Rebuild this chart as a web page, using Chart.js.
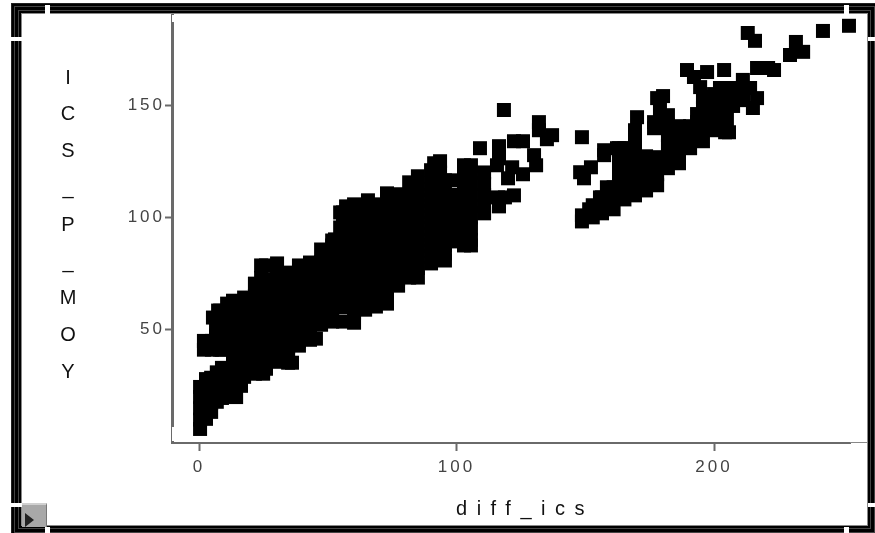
<!DOCTYPE html>
<html>
<head>
<meta charset="utf-8">
<title>diff_ics</title>
<script src="https://cdn.jsdelivr.net/npm/chart.js@4"></script>
<style>
  html, body { margin: 0; padding: 0; background: #fff; overflow: hidden; }
  #wrap { position: relative; width: 875px; height: 533px; overflow: hidden; }
  #frame {
    position: absolute; left: 11px; top: 3px; width: 867px; height: 533px; pointer-events: none;
    box-shadow: inset 0 0 0 1px #222, inset 0 0 0 3px #000, inset 0 0 0 4px #444, inset 0 0 0 7px #000,
                inset 0 0 0 8px #444, inset 0 0 0 10px #000, inset 0 0 0 11px #888;
  }
  .notch { position: absolute; background: #fff; }
  #btn {
    position: absolute; left: 22px; top: 503px; width: 25px; height: 24px; background: #a8a8a8;
    border-top: 2px solid #d0d0d0; border-right: 1px solid #777; box-sizing: border-box;
  }
  #btn i { position: absolute; left: 3px; top: 8px; width: 0; height: 0;
    border-left: 9px solid #222; border-top: 7px solid transparent; border-bottom: 7px solid transparent; }
</style>
</head>
<body>
<div id="wrap">
  <canvas id="scatterChart" width="875" height="533"></canvas>
  <div id="frame"></div>
  <div class="notch" style="left:45px;top:5px;width:5px;height:9px"></div>
  <div class="notch" style="left:844px;top:5px;width:5px;height:9px"></div>
  <div class="notch" style="left:11px;top:37px;width:11px;height:4px"></div>
  <div class="notch" style="left:868px;top:37px;width:7px;height:4px"></div>
  <div class="notch" style="left:11px;top:503px;width:11px;height:4px"></div>
  <div class="notch" style="left:868px;top:503px;width:7px;height:4px"></div>
  <div id="btn"><i></i></div>
  <div class="notch" style="left:45px;top:527px;width:5px;height:6px"></div>
  <div class="notch" style="left:844px;top:527px;width:5px;height:6px"></div>
  <div class="notch" style="left:172px;top:15px;width:2px;height:7px"></div>
  <div class="notch" style="left:172px;top:427px;width:2px;height:14px"></div>
  <div style="position:absolute;left:850px;top:442px;width:18px;height:1px;background:#888"></div>
</div>
<script>
const xTicks = [0, 100, 200];
const yTicks = [50, 100, 150];
const xTitle = 'diff_ics';
const yTitleLetters = ['I', 'C', 'S', '_', 'P', '_', 'M', 'O', 'Y'];

// lower band, x < 140: diff_ics values, one per group in lowerY
const lowerX = [
  0.4, 1.9, 2.7, 4.7, 5, 5.4, 6.6, 6.9, 7.4, 8.2, 8.9, 10.9, 13.2, 14.4, 16.3, 17.5, 21.7, 24.1, 24.9, 26, 30.3,
  34.6, 36.1, 38.8, 43.1, 45.4, 47.4, 51.7, 52.8, 54.8, 55.9, 57.1, 60.2, 64.5, 65.6, 68.7, 73, 77.3,
  81.6, 85, 90.1, 91.3, 93.6, 95.5, 98.6, 102.9, 105.6, 109.1, 110.7, 115.7, 116.1, 116.5, 118.4, 118.8,
  120, 121.6, 122.3, 125.8, 130.1, 130.9, 132, 135.1, 137.1
];

const lowerY = [
  [5.8, 10, 15, 20, 24.5],
  [41.1, 45],
  [10.3, 15, 20, 25, 28],
  [13.4, 17.5, 22.5, 28.6],
  [41.1, 45],
  [55.4],
  [47.3, 50.9],
  [17.9, 22.5, 27.5, 31],
  [58.5],
  [41.1, 44.2, 58.5],
  [19.6, 25, 30, 33, 41.1, 44.2, 50, 54.9],
  [61.6],
  [20.1, 25, 30, 35, 40, 45, 50, 55, 60, 62.9],
  [20],
  [25],
  [29, 32.5, 37.5, 42.5, 47.5, 52.5, 57.5, 62.5, 64.3],
  [30.4, 35, 40, 45, 50, 55, 60, 65, 70.5],
  [73, 78.6],
  [30.4],
  [32.6, 37.5, 42.5, 47.5, 52.5, 57.5, 62.5, 67.5, 72.5, 78.6],
  [35.7, 40, 45, 50, 55, 60, 65, 70, 75, 79.5],
  [35.3, 37.5, 42.5, 47.5, 52.5, 57.5, 62.5, 67.5, 72.5, 75.4],
  [35.3],
  [42.9, 45, 50, 55, 60, 65, 70, 75, 78.6],
  [45.5, 47.5, 52.5, 57.5, 62.5, 67.5, 72.5, 77.5, 79.9],
  [46],
  [52.2, 55, 60, 65, 70, 75, 80, 85.7],
  [53.6, 57.5, 62.5, 67.5, 72.5, 77.5, 82.5, 87.5, 89.7],
  [90.2],
  [95.5, 102.2],
  [53.6, 60, 65, 70, 75, 80, 85, 90, 95, 100, 102.2],
  [104.9],
  [53.1, 57.5, 62.5, 67.5, 72.5, 77.5, 82.5, 87.5, 92.5, 97.5, 102.5, 105.8],
  [58.9, 65, 70, 75, 80, 85, 90, 95, 100, 105],
  [107.6],
  [60.3, 62.5, 67.5, 72.5, 77.5, 82.5, 87.5, 92.5, 97.5, 102.5, 105.8],
  [61.6, 65, 70, 75, 80, 85, 90, 95, 100, 105, 110.7],
  [69.6, 72.5, 77.5, 82.5, 87.5, 92.5, 97.5, 102.5, 107.5, 110.3],
  [73.2, 75, 80, 85, 90, 95, 100, 105, 110, 115.6],
  [73.2, 77.5, 82.5, 87.5, 92.5, 97.5, 102.5, 107.5, 112.5, 118.3],
  [79.5, 85, 90, 95, 100, 105, 110, 115, 121],
  [124.1],
  [120, 125],
  [80.8, 84, 87.5, 92.5, 97.5, 102.5, 107.5, 112.5, 116.5],
  [89.3, 95, 100, 105, 110, 116.5],
  [87.5, 92.5, 97.5, 102.5, 107.5, 112.5, 117.5, 123.2],
  [87.5, 90, 95, 100, 105, 110, 115, 120, 123.2],
  [130.8],
  [101.8, 105, 110, 115, 120],
  [123.2],
  [108.9],
  [104.9, 126.3, 131.7],
  [147.8],
  [108.9],
  [117.4],
  [122.3],
  [109.8, 133.9],
  [119.2, 133.9],
  [127.7],
  [123.2],
  [138.8, 142.4],
  [134.8],
  [136.6]
];

// upper band, x > 140
const upperX = [
  148, 148.7, 149.5, 151.5, 152.2, 152.9, 155.7, 156.5, 157.3, 158.4, 161, 162.3, 163.1, 165.2, 166.2,
  169.3, 170.1, 173.6, 176.7, 177.9, 179, 180.2, 182.1, 186.4, 189.5, 190.7,
  192.2, 193.4, 194.6, 195.7, 197.3, 200, 202.3, 203.9, 204.3, 205, 205.8, 207.4, 211.2, 211.3,
  213.1, 214, 215.1, 215.9, 216.7, 221, 223.3, 229.5, 231.8, 234.6, 242.3, 252.4
];

const upperY = [
  [120.1],
  [98.2, 100.9, 135.7],
  [117.4],
  [103.6],
  [122.3],
  [100, 105.4],
  [108.9],
  [101.8, 105.4, 108.9],
  [127.7, 129.9],
  [113.4],
  [103.6, 108.5, 113.4],
  [130.8],
  [114.7, 120.1, 125.4, 130.8],
  [108, 113, 117.9, 122.8, 127.7, 130.8],
  [130.8],
  [109.8, 114.7, 119.6, 124.6, 129.5, 134.4, 138.8],
  [144.6],
  [112, 117.4, 122.8, 127.2],
  [139.7, 142.4],
  [114.3, 119.2, 124.1, 126.8, 153.1],
  [147.8],
  [154],
  [121.9, 126.8, 131.7, 136.6, 141, 145.5],
  [124.1, 129, 133.9, 138.8, 140.6],
  [165.6],
  [130.8, 135.7, 140.6],
  [162.5],
  [134.4, 142.4, 146],
  [158],
  [133.9, 138.8, 143.8, 148.7, 153.6],
  [164.7],
  [138.8, 143.8, 148.7, 153.6, 154.9],
  [157.6],
  [165.6],
  [137.9, 142.9, 147.8, 152.7, 157.6],
  [143.8],
  [137.9],
  [149.6, 154.5, 157.6],
  [161.2],
  [152.2, 156.7],
  [182.1],
  [157.6],
  [148.7],
  [178.6],
  [153.1, 166.5],
  [166.5],
  [165.6],
  [172.3],
  [178.1],
  [173.7],
  [183],
  [185.3]
];

const toPoints = (xs, ys) => xs.flatMap((x, i) => ys[i].map(y => ({ x, y })));
const points = [...toPoints(lowerX, lowerY), ...toPoints(upperX, upperY)];

const spineColor = '#6a6a6a';
const tickTextColor = '#444';

const axisText = {
  id: 'axisText',
  beforeDraw: c => { c.ctx.letterSpacing = '3px'; },
  afterDraw: c => {
    const ctx = c.ctx;
    ctx.save();
    ctx.fillStyle = '#111';
    ctx.textBaseline = 'middle';
    ctx.textAlign = 'center';
    ctx.font = '20px "Liberation Sans"';
    ctx.letterSpacing = '0px';
    yTitleLetters.forEach((ch, i) => ctx.fillText(ch, 68, 78 + i * 36.8));
    ctx.letterSpacing = '9.5px';
    ctx.fillText(xTitle, 525, 509);
    ctx.restore();
  }
};

new Chart(document.getElementById('scatterChart').getContext('2d'), {
  type: 'scatter',
  data: {
    datasets: [{
      label: 'ICS_P_MOY',
      data: points,
      clip: false,
      pointStyle: 'rect',
      pointRadius: 9.9,
      pointBorderWidth: 0,
      pointBackgroundColor: '#000',
      showLine: false
    }]
  },
  options: {
    responsive: false,
    animation: false,
    layout: { padding: { left: 0, top: 15, right: 25, bottom: 0 } },
    plugins: { legend: { display: false }, tooltip: { enabled: false } },
    scales: {
      x: {
        min: -10.5,
        max: 252.8,
        afterFit: s => { s.height = 90; },
        afterBuildTicks: s => { s.ticks = xTicks.map(value => ({ value })); },
        border: { color: spineColor, width: 2 },
        grid: { drawOnChartArea: false, tickLength: 8, tickWidth: 2, tickColor: spineColor },
        ticks: { color: tickTextColor, maxRotation: 0, padding: 6, font: { family: 'Liberation Sans', size: 17 } }
      },
      y: {
        min: -0.45,
        max: 190.1,
        afterFit: s => { s.width = 172; },
        afterBuildTicks: s => { s.ticks = yTicks.map(value => ({ value })); },
        border: { color: spineColor, width: 3 },
        grid: { drawOnChartArea: false, tickLength: 7, tickWidth: 2, tickColor: spineColor },
        ticks: { color: tickTextColor, padding: 0, font: { family: 'Liberation Sans', size: 17 } }
      }
    }
  },
  plugins: [axisText]
});
</script>
</body>
</html>
